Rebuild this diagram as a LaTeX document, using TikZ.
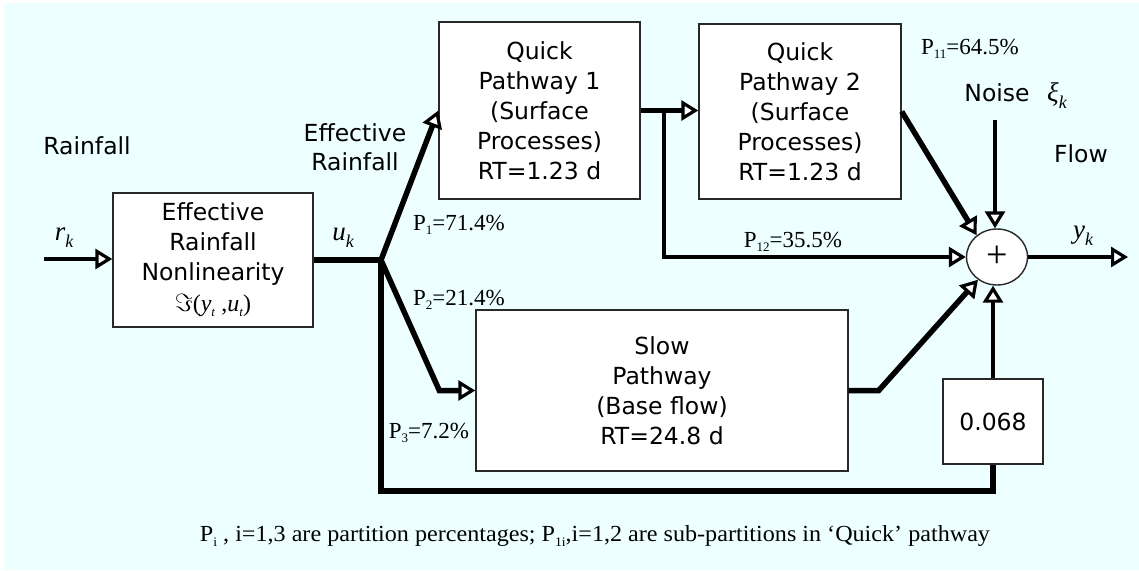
\documentclass[tikz,border=0pt]{standalone}
\usepackage{fontspec}
\usepackage{graphicx}
\newfontfamily\sansf{DejaVu Sans}
\newfontfamily\tnr{Liberation Serif}
\usetikzlibrary{arrows.meta,shapes.geometric,calc}
\definecolor{bgc}{RGB}{238,255,255}
\definecolor{edge}{RGB}{40,40,40}
\newcommand\psub[1]{\raisebox{-4.5pt}{\fontsize{13}{13}\selectfont #1}}
\newcommand\isub[1]{\raisebox{-7pt}{\fontsize{18}{18}\selectfont\itshape #1}}
\begin{document}
\begin{tikzpicture}[x=1pt,y=-1pt,
  box/.style={draw=edge, line width=1.4pt, fill=white, align=center, inner sep=0pt,
    font=\sansf\fontsize{23.5}{30}\selectfont},
  arr/.style={-{Triangle[length=17pt,width=20pt,fill=white,line width=3.2pt]}},
  mainline/.style={line width=5.5pt},
  thinline/.style={line width=4.5pt},
  lbl/.style={font=\sansf\fontsize{23.5}{29}\selectfont, inner sep=0pt},
  tlbl/.style={font=\tnr\fontsize{23}{26}\selectfont, inner sep=0pt},
  mlbl/.style={font=\tnr\fontsize{27}{30}\selectfont\itshape, inner sep=0pt}]
\useasboundingbox (0,0) rectangle (1139,570);
\fill[white] (0,0) rectangle (1139,570);
\fill[bgc] (4,3) rectangle (1139,570);

% blocks
\node[box, minimum width=200pt, minimum height=134pt] (E) at (213,260)
  {Effective\\Rainfall\\Nonlinearity\\[1pt]{$\Im${\tnr\fontsize{24}{24}\selectfont(\textit{y}\psub{\textit{t}} ,\textit{u}\psub{\textit{t}})}}};
\node[box, minimum width=201pt, minimum height=177pt] (Q1) at (539.5,110.5)
  {Quick\\Pathway 1\\(Surface\\Processes)\\RT=1.23 d};
\node[box, minimum width=202pt, minimum height=175pt] (Q2) at (800,111.5)
  {Quick\\Pathway 2\\(Surface\\Processes)\\RT=1.23 d};
\node[box, minimum width=372pt, minimum height=161pt] (SL) at (662,390.5)
  {Slow\\Pathway\\(Base flow)\\RT=24.8 d};
\node[box, minimum width=100pt, minimum height=85pt] (G) at (993,421.5) {0.068};
\node[ellipse, draw=edge, line width=1.4pt, fill=white, minimum width=61pt, minimum height=56pt,
  inner sep=0pt, font=\tnr\fontsize{38}{38}\selectfont] (S) at (997,257) {+};

% coordinates
\coordinate (IN) at (44,259);
\coordinate (J) at (381,260);
\coordinate (B) at (664,110);
\coordinate (N) at (995,120);
\coordinate (OUT) at (1128,257);

% connectors
\draw[thinline,arr] (IN) -- (E.west |- IN);
\draw[mainline] (E.east) -- (J);
\draw[mainline,arr] (J) -- (Q1.west);
\draw[mainline,arr] (J) -- ([xshift=-36pt]SL.west) -- (SL.west);
\draw[mainline] (J) -- ++(0,231) -| (G.south);
\draw[mainline,arr] (Q1.east) -- (Q1.east -| Q2.west);
\draw[thinline,arr] (B) |- (S.west);
\draw[mainline,arr] (Q2.east) -- (S.133);
\draw[thinline,arr] (N) -- (N |- S.north);
\draw[mainline,arr] (SL.east) -- ++(30,0) -- (S.-130);
\draw[thinline,arr] (G.north) -- (G.north |- S.south);
\draw[thinline,arr] (S.east) -- (OUT);

% labels
\node[lbl] (rain) at (87,146) {Rainfall};
\node[lbl, align=center] (eff) at (355,147) {Effective\\Rainfall};
\node[mlbl] (rk) at (64,238) {r\isub{k}};
\node[mlbl] (uk) at (343,238) {u\isub{k}};
\node[tlbl] (p1) at (459,225) {P\psub{1}=71.4\%};
\node[tlbl] (p2) at (459,300) {P\psub{2}=21.4\%};
\node[tlbl] (p3) at (429,433) {P\psub{3}=7.2\%};
\node[tlbl] (p12) at (793,242) {P\psub{12}=35.5\%};
\node[tlbl] (p11) at (970,49) {P\psub{11}=64.5\%};
\node[lbl] (noise) at (997,93) {Noise};
\node[mlbl] (xi) at (1057,96) {ξ\isub{k}};
\node[lbl] (flow) at (1081,154) {Flow};
\node[mlbl] (yk) at (1083,236) {y\isub{k}};
\node[tlbl] (cap) at (595,536) {\resizebox{790pt}{\height}{P\psub{i} , i=1,3 are partition percentages; P\psub{1i},i=1,2 are sub-partitions in ‘Quick’ pathway}};
\end{tikzpicture}
\end{document}
